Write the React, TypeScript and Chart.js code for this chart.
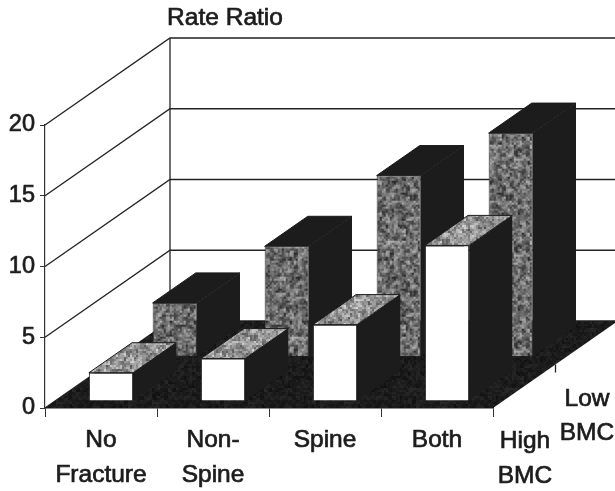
import React, { useEffect, useRef } from "react";
import { Chart, registerables } from "chart.js";

Chart.register(...registerables);

const categories = [["No", "Fracture"], ["Non-", "Spine"], "Spine", "Both"];
const highBmc = [2, 3, 5.4, 11];
const lowBmc = [3.8, 7.8, 12.8, 15.8];
const yTicks = [0, 5, 10, 15, 20];
const yTitle = "Rate Ratio";
const seriesHigh = ["High", "BMC"];
const seriesLow = ["Low", "BMC"];

const FONT = "'Liberation Sans', Arial, sans-serif";
const INK = "#1c1c1c";
const DEPTH_X = 125;
const DEPTH_Y = 87;

// Repeating speckle tile, used as the fill for shaded bar faces.
function speckle(base: number, spread: number): CanvasPattern | string {
  const size = 96;
  const tile = document.createElement("canvas");
  tile.width = tile.height = size;
  const c = tile.getContext("2d");
  if (!c) return "#777";
  const hash = (x: number, y: number) => {
    const s = Math.sin(x * 127.1 + y * 311.7) * 43758.5453;
    return s - Math.floor(s);
  };
  c.filter = "blur(0.7px)";
  for (let y = 0; y < size; y += 2) {
    for (let x = 0; x < size; x += 2) {
      const coarse = hash(Math.floor(x / 4), Math.floor(y / 4)) - 0.5;
      const fine = hash(x + 3, y + 7) - 0.5;
      const v = Math.round(Math.max(0, Math.min(255, base + spread * (coarse + fine))));
      c.fillStyle = `rgb(${v},${v},${v})`;
      c.fillRect(x, y, 2, 2);
    }
  }
  const out = c.createPattern(tile, "repeat");
  return out || "#777";
}

function poly(ctx: CanvasRenderingContext2D, pts: number[][], fill: any, stroke?: string) {
  ctx.beginPath();
  pts.forEach(([x, y], i) => (i ? ctx.lineTo(x, y) : ctx.moveTo(x, y)));
  ctx.closePath();
  ctx.fillStyle = fill;
  ctx.fill();
  if (stroke) {
    ctx.strokeStyle = stroke;
    ctx.lineWidth = 1;
    ctx.stroke();
  }
}

// Walls, floor, extruded bar sides and depth-axis labels around the flat bars.
const box3d = {
  id: "box3d",
  beforeDatasetsDraw(chart: any) {
    const { ctx } = chart;
    const xs = chart.scales.x;
    const ys = chart.scales.y;
    const left = xs.left;
    const right = xs.right;
    const floor = ys.getPixelForValue(0);
    ctx.save();
    ctx.strokeStyle = "#222";
    ctx.lineWidth = 1.3;
    for (const t of yTicks) {
      const y = ys.getPixelForValue(t);
      ctx.beginPath();
      ctx.moveTo(left, y);
      ctx.lineTo(left + DEPTH_X, y - DEPTH_Y);
      ctx.lineTo(right + DEPTH_X, y - DEPTH_Y);
      ctx.stroke();
    }
    ctx.beginPath();
    ctx.moveTo(left + DEPTH_X, ys.getPixelForValue(20) - DEPTH_Y);
    ctx.lineTo(left + DEPTH_X, floor - DEPTH_Y);
    ctx.stroke();
    poly(
      ctx,
      [
        [left, floor],
        [right, floor],
        [right + DEPTH_X, floor - DEPTH_Y],
        [left + DEPTH_X, floor - DEPTH_Y],
      ],
      chart.$floorFill
    );
    // Tick halfway along the depth axis
    ctx.beginPath();
    ctx.moveTo(right + DEPTH_X / 2, floor - DEPTH_Y / 2);
    ctx.lineTo(right + DEPTH_X / 2, floor - DEPTH_Y / 2 + 8);
    ctx.stroke();
    ctx.restore();
  },
  beforeDatasetDraw(chart: any, args: any) {
    const { ctx } = chart;
    const ds = chart.data.datasets[args.index];
    const meta = chart.getDatasetMeta(args.index);
    const offX = DEPTH_X * ds.rowStart;
    const offY = DEPTH_Y * ds.rowStart;
    const dx = DEPTH_X * ds.rowDepth;
    const dy = DEPTH_Y * ds.rowDepth;
    ctx.save();
    ctx.translate(offX, -offY);
    for (const bar of meta.data) {
      const l = bar.x - bar.width / 2;
      const r = bar.x + bar.width / 2;
      poly(ctx, [[r, bar.y], [r + dx, bar.y - dy], [r + dx, bar.base - dy], [r, bar.base]], INK);
      poly(ctx, [[l, bar.y], [l + dx, bar.y - dy], [r + dx, bar.y - dy], [r, bar.y]], ds.topFill, INK);
    }
    // Left translated so the library's own bar drawing lands on this row.
  },
  afterDatasetDraw(chart: any) {
    chart.ctx.restore();
  },
  afterDraw(chart: any) {
    const { ctx } = chart;
    const xs = chart.scales.x;
    const ys = chart.scales.y;
    const floor = ys.getPixelForValue(0);
    ctx.save();
    ctx.fillStyle = INK;
    ctx.strokeStyle = INK;
    ctx.lineWidth = 0.7;
    ctx.font = `24.5px ${FONT}`;
    ctx.textAlign = "center";
    ctx.textBaseline = "middle";
    const put = (t: string, x: number, y: number) => {
      ctx.fillText(t, x, y);
      ctx.strokeText(t, x, y);
    };
    seriesHigh.forEach((t, i) => put(t, xs.right + 32, floor + 33 + i * 35));
    seriesLow.forEach((t, i) => put(t, xs.right + 94, floor - 9 + i * 34));
    put(yTitle, xs.left + 180, 18);
    ctx.restore();
  },
};

export default function App() {
  const ref = useRef<HTMLCanvasElement>(null);
  useEffect(() => {
    document.body.style.margin = "0";
    const canvas = ref.current;
    if (!canvas) return;
    const chart: any = new Chart(canvas, {
      type: "bar",
      data: {
        labels: categories as any,
        datasets: [
          {
            label: "High BMC",
            data: highBmc,
            backgroundColor: "#ffffff",
            borderColor: "#2a2a2a",
            borderWidth: 1,
            clip: false,
            rowStart: 0.08,
            rowDepth: 0.345,
            topFill: speckle(150, 70),
          },
          {
            label: "Low BMC",
            data: lowBmc,
            backgroundColor: speckle(108, 75),
            borderColor: "#3a3a3a",
            borderWidth: 1,
            clip: false,
            rowStart: 0.59,
            rowDepth: 0.345,
            topFill: INK,
          },
        ] as any,
      },
      options: {
        animation: false,
        responsive: false,
        grouped: false,
        layout: { autoPadding: false, padding: { left: 0, top: 125, right: 122, bottom: 0 } },
        datasets: { bar: { categoryPercentage: 1, barPercentage: 0.395 } },
        plugins: { legend: { display: false }, title: { display: false }, tooltip: { enabled: false } },
        scales: {
          x: {
            afterFit: (s: any) => { s.height = 83; },
            border: { color: INK, width: 1.5 },
            grid: { drawOnChartArea: false, drawTicks: true, tickLength: 9, color: "#333", offset: true },
            ticks: {
              color: INK,
              font: { family: FONT, size: 24.5, lineHeight: 1.43 },
              padding: 6,
              maxRotation: 0,
              autoSkip: false,
              textStrokeColor: INK,
              textStrokeWidth: 0.7,
            },
          },
          y: {
            min: 0,
            max: 20,
            afterFit: (s: any) => { s.width = 45; },
            border: { color: "#333", width: 1.2 },
            grid: { drawOnChartArea: false, drawTicks: true, tickLength: 5, color: "#333" },
            ticks: {
              stepSize: 5,
              color: INK,
              font: { family: FONT, size: 23.5 },
              padding: 5,
              textStrokeColor: INK,
              textStrokeWidth: 0.7,
            },
          },
        },
      } as any,
      plugins: [box3d],
    });
    chart.$floorFill = speckle(28, 14);
    chart.draw();
    return () => chart.destroy();
  }, []);
  return <canvas ref={ref} width={615} height={491} style={{ display: "block" }} />;
}
